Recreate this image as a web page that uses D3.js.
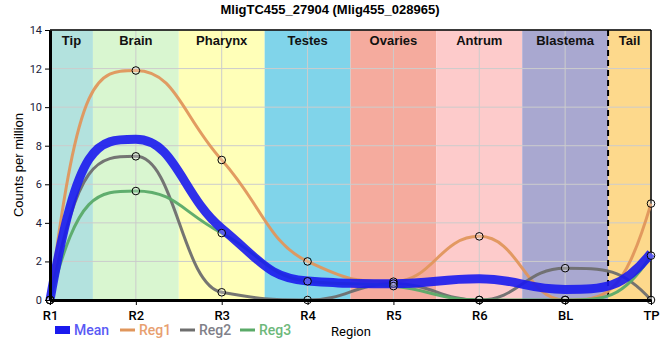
<!DOCTYPE html>
<html><head><meta charset="utf-8">
<script src="https://cdn.jsdelivr.net/npm/d3@7"></script>
<style>body{margin:0;background:#fff}svg{display:block}</style>
</head><body><svg id="c" width="660" height="360"></svg>
<script>
const categories = ["R1","R2","R3","R4","R5","R6","BL","TP"];
const regions = ["Tip","Brain","Pharynx","Testes","Ovaries","Antrum","Blastema","Tail"];
const regionColors = ["#b3e2de","#d9f6d0","#ffffb8","#80d4ea","#f5ab9e","#fdcbcb","#a9a8d0","#fdd98c"];
const reg1 = [0, 11.9, 7.26, 2.0, 0.95, 3.3, 0, 5.0];
const reg2 = [0, 7.45, 0.4, 0, 0.85, 0, 1.65, 0];
const reg3 = [0, 5.65, 3.47, 0.97, 0.72, 0, 0, 2.3];
const meanVals = [0, 8.33, 3.71, 0.99, 0.84, 1.1, 0.55, 2.43];
const yTicks = [0,2,4,6,8,10,12,14];
const title = "MligTC455_27904 (Mlig455_028965)";

// smooth monotone curve with long handles (plateaus at local extrema)
function SharpMono(ctx){ this._ctx = ctx; }
SharpMono.prototype = {
  areaStart(){}, areaEnd(){},
  lineStart(){ this._xs = []; this._ys = []; },
  point(x, y){ this._xs.push(+x); this._ys.push(+y); },
  lineEnd(){
    const xs = this._xs, ys = this._ys, n = xs.length, c = this._ctx;
    if (!n) return;
    c.moveTo(xs[0], ys[0]);
    if (n < 2) return;
    const s = [], h = [];
    for (let i = 0; i < n - 1; i++){ h.push(xs[i+1]-xs[i]); s.push((ys[i+1]-ys[i])/h[i]); }
    const m = new Array(n).fill(0);
    for (let i = 1; i < n - 1; i++){
      const s0 = s[i-1], s1 = s[i];
      if (s0 * s1 <= 0) { m[i] = 0; continue; }
      const p = (s0*h[i] + s1*h[i-1])/(h[i-1]+h[i]);
      m[i] = (Math.sign(s0)+Math.sign(s1)) * Math.min(Math.abs(s0), Math.abs(s1), 0.5*Math.abs(p));
    }
    const endSlope = (sv, mo) => { if (sv === 0) return 0; let v = 3*sv - 2*mo; if (v*sv < 0) v = 0; if (Math.abs(v) > 3*Math.abs(sv)) v = 3*sv; return v; };
    m[0] = endSlope(s[0], m[1]);
    m[n-1] = endSlope(s[n-2], m[n-2]);
    const kInt = 0.46, kEnd = 1/3;
    for (let i = 0; i < n - 1; i++){
      const k0 = i === 0 ? kEnd : kInt, k1 = i + 1 === n - 1 ? kEnd : kInt;
      const dy = ys[i+1]-ys[i];
      let o0 = m[i]*k0*h[i], o1 = m[i+1]*k1*h[i];
      if (Math.abs(o0) > Math.abs(dy)) o0 = Math.sign(o0)*Math.abs(dy);
      if (Math.abs(o1) > Math.abs(dy)) o1 = Math.sign(o1)*Math.abs(dy);
      c.bezierCurveTo(xs[i]+k0*h[i], ys[i]+o0, xs[i+1]-k1*h[i], ys[i+1]-o1, xs[i+1], ys[i+1]);
    }
  }
};
const curveSharp = ctx => new SharpMono(ctx);

const svg = d3.select("#c");
const L = 50, R = 651, T = 30, B = 300;
const x = d3.scalePoint().domain(categories).range([L, R]);
const y = d3.scaleLinear().domain([0, 14]).range([B, T]);
const step = x.step();

regions.forEach((r, i) => {
  const cx = x(categories[i]);
  const x0 = Math.max(L, cx - step/2), x1 = Math.min(R, cx + step/2);
  svg.append("rect").attr("x", x0).attr("y", T).attr("width", x1 - x0).attr("height", B - T).attr("fill", regionColors[i]);
});
const g = svg.append("g");
yTicks.forEach(t => g.append("line").attr("x1", L).attr("x2", R).attr("y1", y(t)).attr("y2", y(t)).attr("stroke", "#cccccc").attr("stroke-width", 1));
categories.forEach(c => g.append("line").attr("x1", x(c)).attr("x2", x(c)).attr("y1", T).attr("y2", B).attr("stroke", "#cccccc").attr("stroke-width", 1));

regions.forEach((r, i) => {
  const cx = x(categories[i]);
  const x0 = Math.max(L, cx - step/2), x1 = Math.min(R, cx + step/2);
  svg.append("text").attr("x", (x0 + x1)/2).attr("y", 45).attr("text-anchor", "middle")
    .attr("font-family", "Liberation Sans, Arial, sans-serif").attr("font-weight", "bold").attr("font-size", 13).attr("fill", "#111").text(r);
});
const xd = x("BL") + step/2;
svg.append("line").attr("x1", xd).attr("x2", xd).attr("y1", T).attr("y2", B).attr("stroke", "#000").attr("stroke-width", 2).attr("stroke-dasharray", "6,4");

svg.append("line").attr("x1", L).attr("x2", R).attr("y1", T).attr("y2", T).attr("stroke", "#000").attr("stroke-width", 1.5);
svg.append("line").attr("x1", R).attr("x2", R).attr("y1", T).attr("y2", B).attr("stroke", "#000").attr("stroke-width", 1.5);

const line = d3.line().x((d, i) => x(categories[i])).y(d => y(d)).curve(curveSharp);
const series = [
  {name: "Reg1", vals: reg1, color: "#e0965c", w: 3},
  {name: "Reg2", vals: reg2, color: "#6e6e6e", w: 3},
  {name: "Reg3", vals: reg3, color: "#5aaa68", w: 3}
];
series.forEach(s => svg.append("path").datum(s.vals).attr("d", line).attr("fill", "none").attr("stroke", s.color).attr("stroke-width", s.w).attr("stroke-opacity", 0.95));
svg.append("path").datum(meanVals).attr("d", line).attr("fill", "none").attr("stroke", "#1a1aee").attr("stroke-width", 9).attr("stroke-opacity", 0.9);
series.forEach(s => s.vals.forEach((v, i) => svg.append("circle").attr("cx", x(categories[i])).attr("cy", y(v)).attr("r", 3.8)
  .attr("fill", "rgba(255,255,255,0.25)").attr("stroke", "#000").attr("stroke-width", 1)));

const ya = svg.append("g").attr("transform", `translate(${L},0)`).call(d3.axisLeft(y).tickValues(yTicks).tickSize(5).tickSizeOuter(0));
ya.select(".domain").attr("stroke-width", 3);
ya.selectAll("text").attr("font-family", "Roboto, sans-serif").attr("font-size", 11).attr("fill", "#1a1a3a");
const xa = svg.append("g").attr("transform", `translate(0,${B})`).call(d3.axisBottom(x).tickSize(5).tickSizeOuter(0));
xa.select(".domain").attr("stroke-width", 3);
xa.selectAll("text").attr("font-family", "Roboto, sans-serif").attr("font-size", 13).attr("font-weight", 500).attr("fill", "#000").attr("dy", "0.95em");

svg.append("text").attr("transform", `translate(23,${(T+B)/2}) rotate(-90)`).attr("text-anchor", "middle")
  .attr("font-family", "Liberation Sans, Arial, sans-serif").attr("font-size", 13).attr("fill", "#000").text("Counts per million");
svg.append("text").attr("x", 330).attr("y", 14).attr("text-anchor", "middle")
  .attr("font-family", "Liberation Sans, Arial, sans-serif").attr("font-weight", "bold").attr("font-size", 13).attr("fill", "#000").text(title);

const leg = [
  {name: "Mean", color: "#1a1aee", text: "#5a5af5", w: 8, x: 55},
  {name: "Reg1", color: "#e0965c", text: "#e8a070", w: 3, x: 120},
  {name: "Reg2", color: "#6e6e6e", text: "#808088", w: 3, x: 180},
  {name: "Reg3", color: "#5aaa68", text: "#6db87a", w: 3, x: 240}
];
leg.forEach(l => {
  svg.append("line").attr("x1", l.x).attr("x2", l.x + 15).attr("y1", 330).attr("y2", 330).attr("stroke", l.color).attr("stroke-width", l.w);
  svg.append("text").attr("x", l.x + 19).attr("y", 335).attr("font-family", "Roboto, sans-serif").attr("font-weight", 500).attr("font-size", 14).attr("fill", l.text).text(l.name);
});
svg.append("text").attr("x", 331).attr("y", 336).attr("font-family", "Roboto, sans-serif").attr("font-size", 13).attr("fill", "#000").text("Region");
</script></body></html>
